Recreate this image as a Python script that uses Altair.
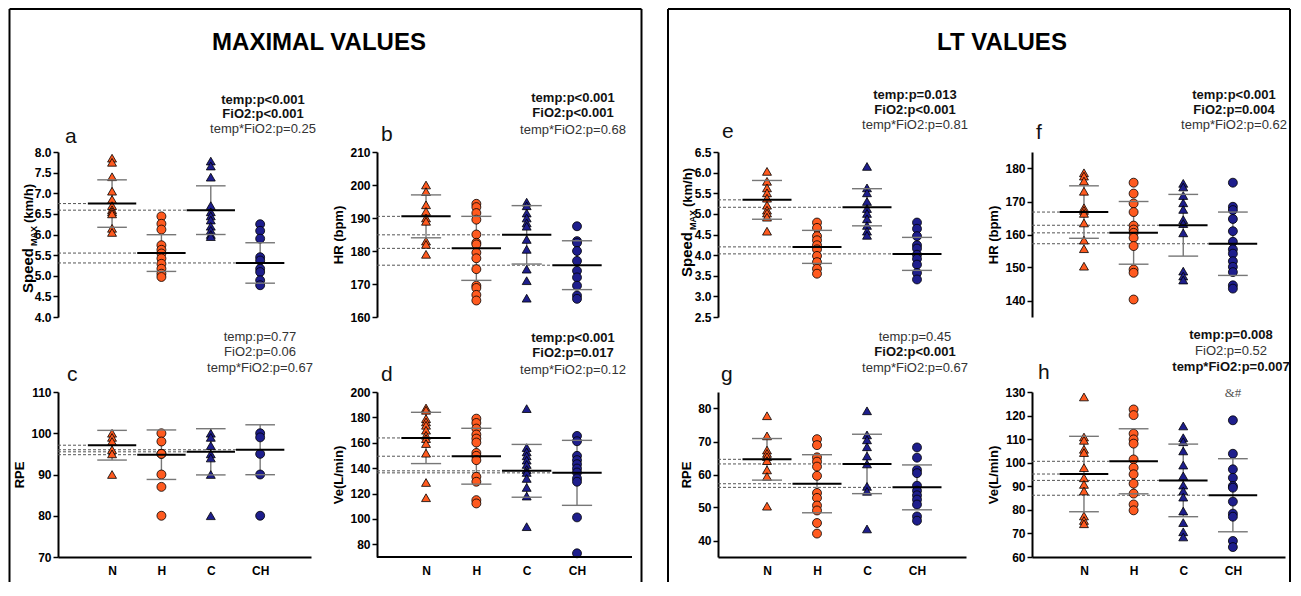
import altair as alt
import pandas as pd

GROUPS = ["N", "H", "C", "CH"]
ORANGE = "#FF5A1F"
NAVY = "#1E1E8C"
FONT = "Liberation Sans"

# ---------------- data ----------------
# a: Speed MAX (km/h), maximal
a_N = [7.85, 7.75, 7.40, 7.05, 6.85, 6.70, 6.60, 6.55, 6.50, 6.15, 6.05]
a_H = [6.44, 6.26, 6.12, 5.74, 5.63, 5.54, 5.42, 5.29, 5.17, 5.05, 4.97]
a_C = [7.78, 7.66, 7.39, 6.70, 6.55, 6.45, 6.35, 6.20, 6.10, 6.00, 5.95]
a_CH = [6.25, 6.09, 5.90, 5.45, 5.37, 5.17, 5.09, 4.89, 4.77]
a_mean = [6.75, 5.55, 6.59, 5.31]
a_sd = [0.575, 0.445, 0.59, 0.49]
# b: HR (bpm), maximal
b_N = [200, 198, 194, 192, 190, 189, 183, 182, 179]
b_H = [194.3, 193.3, 191.5, 189.5, 185, 182.5, 182, 179.5, 177.8, 174.5, 169.5, 168.8, 166.7, 165]
b_C = [194.8, 193.7, 191.5, 190, 188.5, 187.5, 183.5, 180.5, 174.5, 171, 165.7]
b_CH = [187.5, 183, 182.5, 180, 177, 174, 172, 169.5, 166.5, 165.5]
b_mean = [190.5, 180.8, 184.9, 175.7]
b_sd = [6.5, 9.7, 8.85, 7.4]
# c: RPE, maximal
c_N = [100, 99, 98, 96, 95, 90]
c_H = [100, 98, 95, 95, 90, 87, 80]
c_C = [100, 99, 97, 95, 94, 90, 80]
c_CH = [100, 99, 95, 90, 80]
c_mean = [97.1, 94.8, 95.5, 96.0]
c_sd = [3.6, 6.0, 5.6, 6.05]
# d: Ve (L/min), maximal
d_N = [187.4, 185.6, 179, 176.4, 173.8, 169.9, 165.9, 163.3, 159.4, 151.8, 128.7, 116.7]
d_H = [179, 175.6, 171.2, 166.5, 163.3, 160.2, 152, 149.7, 146.3, 133.2, 129.3, 114.8, 112.2]
d_C = [186.9, 156.2, 152.8, 149.7, 146.3, 142.9, 138.9, 136.6, 131.9, 124.8, 118, 93.9]
d_CH = [165.4, 161.2, 149.7, 146.3, 143.1, 139.7, 136.6, 131.9, 129.3, 101.2, 72.9]
d_mean = [163.8, 149.4, 137.9, 136.3]
d_sd = [20.2, 22.0, 20.8, 25.6]
# e: Speed MAX (km/h), LT
e_N = [6.03, 5.79, 5.63, 5.51, 5.38, 5.21, 5.09, 5.02, 4.92, 4.58]
e_H = [4.79, 4.66, 4.46, 4.36, 4.24, 4.14, 3.98, 3.83, 3.67, 3.55]
e_C = [6.15, 5.63, 5.51, 5.30, 5.13, 5.01, 4.88, 4.72, 4.58, 4.48]
e_CH = [4.79, 4.64, 4.46, 4.24, 4.16, 4.01, 3.91, 3.77, 3.57, 3.41]
e_mean = [5.34, 4.20, 5.16, 4.03]
e_sd = [0.47, 0.40, 0.45, 0.40]
# f: HR (bpm), LT
f_N = [178.7, 177.7, 176.2, 173.1, 168.1, 167.3, 166.4, 163.5, 158.3, 155.7, 150.4]
f_H = [175.7, 172.4, 169.4, 166.8, 162.7, 161.5, 160.5, 159, 156.5, 149.4, 148.4, 140.3]
f_C = [175.5, 174.4, 171.8, 169.6, 167.6, 164.5, 163.3, 160.5, 148.9, 147.4, 146.2]
f_CH = [175.7, 168.4, 167.4, 164.7, 161, 157.8, 155.5, 154.2, 151.9, 150.2, 148.6, 144.6, 143.6]
f_mean = [166.8, 160.5, 162.8, 157.2]
f_sd = [7.95, 9.5, 9.35, 9.6]
# g: RPE, LT
g_N = [77.8, 71.7, 67.4, 66.4, 65.4, 64.2, 61.4, 59.4, 50.4]
g_H = [70.7, 68.9, 65.2, 63.9, 62.4, 59.6, 54.4, 52.9, 50.6, 49.1, 45.3, 42.1]
g_C = [79.3, 72, 70.5, 68.4, 65.6, 63.2, 56.4, 54.9, 43.5]
g_CH = [68.2, 65.1, 61.4, 60.4, 56.6, 55.1, 53.7, 52.4, 50.9, 47.3, 46]
g_mean = [64.6, 57.2, 63.2, 56.1]
g_sd = [6.3, 8.8, 9.0, 6.8]
# h: Ve (L/min), LT
h_N = [127.9, 110.9, 109.5, 105.7, 104.3, 97.9, 93.6, 90.8, 88, 77.4, 75.5, 74.1]
h_H = [122.6, 120.2, 112.3, 109.9, 108.1, 101.4, 97.9, 95.1, 91.1, 86.9, 82.3, 79.8]
h_C = [115.6, 110.6, 108.9, 105, 99, 94.4, 90.5, 88, 85.4, 79.5, 74.6, 70.7, 68.5]
h_CH = [118, 103.8, 97.2, 93.6, 90.1, 89.4, 83.5, 78.4, 77.1, 66.8, 64.2]
h_mean = [95.2, 100.6, 92.5, 86.2]
h_sd = [16.0, 13.8, 15.4, 15.5]

# statistics text: (line, bold?)
ann_a = [("temp:p<0.001", True), ("FiO2:p<0.001", True), ("temp*FiO2:p=0.25", False)]
ann_b = [("temp:p<0.001", True), ("FiO2:p<0.001", True), ("temp*FiO2:p=0.68", False)]
ann_c = [("temp:p=0.77", False), ("FiO2:p=0.06", False), ("temp*FiO2:p=0.67", False)]
ann_d = [("temp:p<0.001", True), ("FiO2:p=0.017", True), ("temp*FiO2:p=0.12", False)]
ann_e = [("temp:p=0.013", True), ("FiO2:p<0.001", True), ("temp*FiO2:p=0.81", False)]
ann_f = [("temp:p<0.001", True), ("FiO2:p=0.004", True), ("temp*FiO2:p=0.62", False)]
ann_g = [("temp:p=0.45", False), ("FiO2:p<0.001", True), ("temp*FiO2:p=0.67", False)]
ann_h = [("temp:p=0.008", True), ("FiO2:p=0.52", False), ("temp*FiO2:p=0.007", True)]

H = 165
ONE = pd.DataFrame({"k": [0]})


def txt(text, x, y, size=13, weight="normal", color="black", angle=0,
        align="center", baseline="middle", font=FONT):
    return alt.Chart(ONE).mark_text(
        text=text, fontSize=size, fontWeight=weight, color=color, angle=angle,
        align=align, baseline=baseline, font=font
    ).encode(x=alt.value(x), y=alt.value(y))


def hline(x1, x2, y, w=2, color="black"):
    return alt.Chart(ONE).mark_rule(color=color, strokeWidth=w).encode(
        x=alt.value(x1), x2=alt.value(x2), y=alt.value(y))


def vline(x, y1, y2, w=2, color="black"):
    return alt.Chart(ONE).mark_rule(color=color, strokeWidth=w).encode(
        x=alt.value(x), y=alt.value(y1), y2=alt.value(y2))


def panel(vals, means, sds, ydom, yticks, fmt, ytitle, width, xdom, bottom,
          ann, ann_cx, ann_ys, letter, letter_xy, extra=(), own_xline=False):
    rows = []
    for gi, (g, vs) in enumerate(zip(GROUPS, vals)):
        for v in vs:
            rows.append({"group": g, "idx": gi + 1, "value": v})
    pts = pd.DataFrame(rows)
    summ = pd.DataFrame({"group": GROUPS, "idx": [1, 2, 3, 4],
                         "mean": means, "sd": sds})

    xscale = alt.Scale(domain=xdom, nice=False, zero=False)
    yscale = alt.Scale(domain=ydom, nice=False, zero=False)
    if bottom:
        xaxis = alt.Axis(values=[1, 2, 3, 4],
                         labelExpr="datum.value == 1 ? 'N' : datum.value == 2 ? 'H' : datum.value == 3 ? 'C' : 'CH'",
                         title=None, ticks=False, tickSize=0, grid=False,
                         labelPadding=8, labelFontSize=12,
                         domain=not own_xline)
    else:
        xaxis = None
    yaxis = alt.Axis(values=yticks, format=fmt, title=ytitle, grid=False)

    def X(f):
        return alt.X(f, type="quantitative", scale=xscale, axis=xaxis)

    def Y(f):
        return alt.Y(f, type="quantitative", scale=yscale, axis=yaxis)

    base = alt.Chart(summ).transform_calculate(
        x0=str(xdom[0]), ml="datum.idx - 0.49", mr="datum.idx + 0.49",
        cl="datum.idx - 0.3", cr="datum.idx + 0.3",
        lo="datum.mean - datum.sd", hi="datum.mean + datum.sd")

    dashed = base.mark_rule(color="#555555", strokeWidth=1, strokeDash=[3, 2]).encode(
        x=X("x0"), x2=alt.X2("ml:Q"), y=Y("mean"))
    ebar = base.mark_rule(color="#777777", strokeWidth=1.4).encode(
        x=X("idx"), y=Y("lo"), y2=alt.Y2("hi:Q"))
    dots = alt.Chart(pts).mark_point(
        filled=True, stroke="black", strokeWidth=0.8, size=80, opacity=1,
        fillOpacity=1).encode(
        x=X("idx"), y=Y("value"),
        shape=alt.Shape("group:N", scale=alt.Scale(
            domain=GROUPS, range=["triangle-up", "circle", "triangle-up", "circle"]), legend=None),
        fill=alt.Fill("group:N", scale=alt.Scale(
            domain=GROUPS, range=[ORANGE, ORANGE, NAVY, NAVY]), legend=None))
    cap_lo = base.mark_rule(color="#777777", strokeWidth=1.4).encode(
        x=X("cl"), x2=alt.X2("cr:Q"), y=Y("lo"))
    cap_hi = base.mark_rule(color="#777777", strokeWidth=1.4).encode(
        x=X("cl"), x2=alt.X2("cr:Q"), y=Y("hi"))
    mean = base.mark_rule(color="black", strokeWidth=2).encode(
        x=X("ml"), x2=alt.X2("mr:Q"), y=Y("mean"))

    layers = [dashed, ebar, dots, cap_lo, cap_hi, mean]
    for (t, bold), yy in zip(ann, ann_ys):
        layers.append(txt(t, ann_cx, yy, size=13,
                          weight="bold" if bold else "normal",
                          color="#111111" if bold else "#333333"))
    layers.append(txt(letter, letter_xy[0], letter_xy[1], size=21,
                      align="left", color="#111111"))
    if own_xline:
        layers.append(hline(0, 255, H))
    layers.extend(extra)
    return alt.layer(*layers).properties(width=width, height=H)


def speed_title(base_x, sub_x, y_speed, y_max, y_unit):
    return [
        txt("Speed", base_x, y_speed, size=15, weight="bold", angle=270,
            align="left", baseline="alphabetic"),
        txt("MAX", sub_x, y_max, size=9, weight="bold", angle=270,
            align="left", baseline="alphabetic"),
        txt("(km/h)", base_x, y_unit, size=13, weight="bold", angle=270,
            align="left", baseline="alphabetic"),
    ]


BOTTOM_FRAME = 430

left_box = [
    vline(-48.5, -143, BOTTOM_FRAME), hline(-48.5, 583.5, -143),
    vline(583.5, -143, BOTTOM_FRAME),
    txt("MAXIMAL VALUES", 261, -109, size=24, weight="bold"),
]
right_box = [
    vline(-50, -143, BOTTOM_FRAME), hline(-50, 572, -143),
    vline(572, -143, BOTTOM_FRAME),
    txt("LT VALUES", 284, -109, size=24, weight="bold"),
]

XD0 = [-0.095, 5.03]
XD1 = [0.026, 5.49]
XD2 = [0.02, 4.98]
XD3 = [-0.047, 5.05]

pa = panel([a_N, a_H, a_C, a_CH], a_mean, a_sd, [4, 8],
           [4.0, 4.5, 5.0, 5.5, 6.0, 6.5, 7.0, 7.5, 8.0], ".1f", None, 253, XD0, False,
           ann_a, 205, [-52, -38, -23], "a", (7, -15),
           extra=left_box + speed_title(-25, -21, 141, 94, 71))
pb = panel([b_N, b_H, b_C, b_CH], b_mean, b_sd, [160, 210],
           [160, 170, 180, 190, 200, 210], "d", "HR (bpm)", 275, XD1, False,
           ann_b, 196, [-54, -39, -22], "b", (4, -17))
pe = panel([e_N, e_H, e_C, e_CH], e_mean, e_sd, [2.5, 6.5],
           [2.5, 3.0, 3.5, 4.0, 4.5, 5.0, 5.5, 6.0, 6.5], ".1f", None, 248, XD2, False,
           ann_e, 197, [-57, -42, -27], "e", (4, -20),
           extra=right_box + speed_title(-26, -22, 125, 78, 55))
pf = panel([f_N, f_H, f_C, f_CH], f_mean, f_sd, [135, 185],
           [140, 150, 160, 170, 180], "d", "HR (bpm)", 253, XD3, False,
           ann_f, 202, [-57, -42, -27], "f", (4, -19))
pc = panel([c_N, c_H, c_C, c_CH], c_mean, c_sd, [70, 110],
           [70, 80, 90, 100, 110], "d", "RPE", 253, XD0, True,
           ann_c, 202, [-55, -40, -24], "c", (9, -17))
pd_ = panel([d_N, d_H, d_C, d_CH], d_mean, d_sd, [70, 200],
            [80, 100, 120, 140, 160, 180, 200], "d", "Ve(L/min)", 275, XD1, True,
            ann_d, 196, [-54, -39, -22], "d", (4, -17), own_xline=True)
pg = panel([g_N, g_H, g_C, g_CH], g_mean, g_sd, [35, 85],
           [40, 50, 60, 70, 80], "d", "RPE", 248, XD2, True,
           ann_g, 197, [-55, -40, -24], "g", (3, -17))
ph = panel([h_N, h_H, h_C, h_CH], h_mean, h_sd, [60, 130],
           [60, 70, 80, 90, 100, 110, 120, 130], "d", "Ve(L/min)", 253, XD3, True,
           ann_h, 199, [-57, -41, -25], "h", (6, -19),
           extra=[txt("&#", 201, 1, size=13, color="#555555", font="Liberation Serif")])

chart = alt.ConcatChart(
    concat=[pa, pb, pe, pf, pc, pd_, pg, ph],
    columns=4,
    spacing={"row": 75, "column": 66},
    bounds="flush",
    align="each",
    padding=0,
).configure_view(stroke=None).configure_axis(
    labelFont=FONT, labelFontWeight="bold", labelFontSize=12, labelColor="black",
    titleFont=FONT, titleFontWeight="bold", titleFontSize=13, titleColor="black",
    domainColor="black", domainWidth=2, tickColor="black", tickWidth=1.5,
    tickSize=5, labelPadding=2, titlePadding=4, grid=False,
)

chart.save("out.html", embed_options={"renderer": "svg", "actions": False})
